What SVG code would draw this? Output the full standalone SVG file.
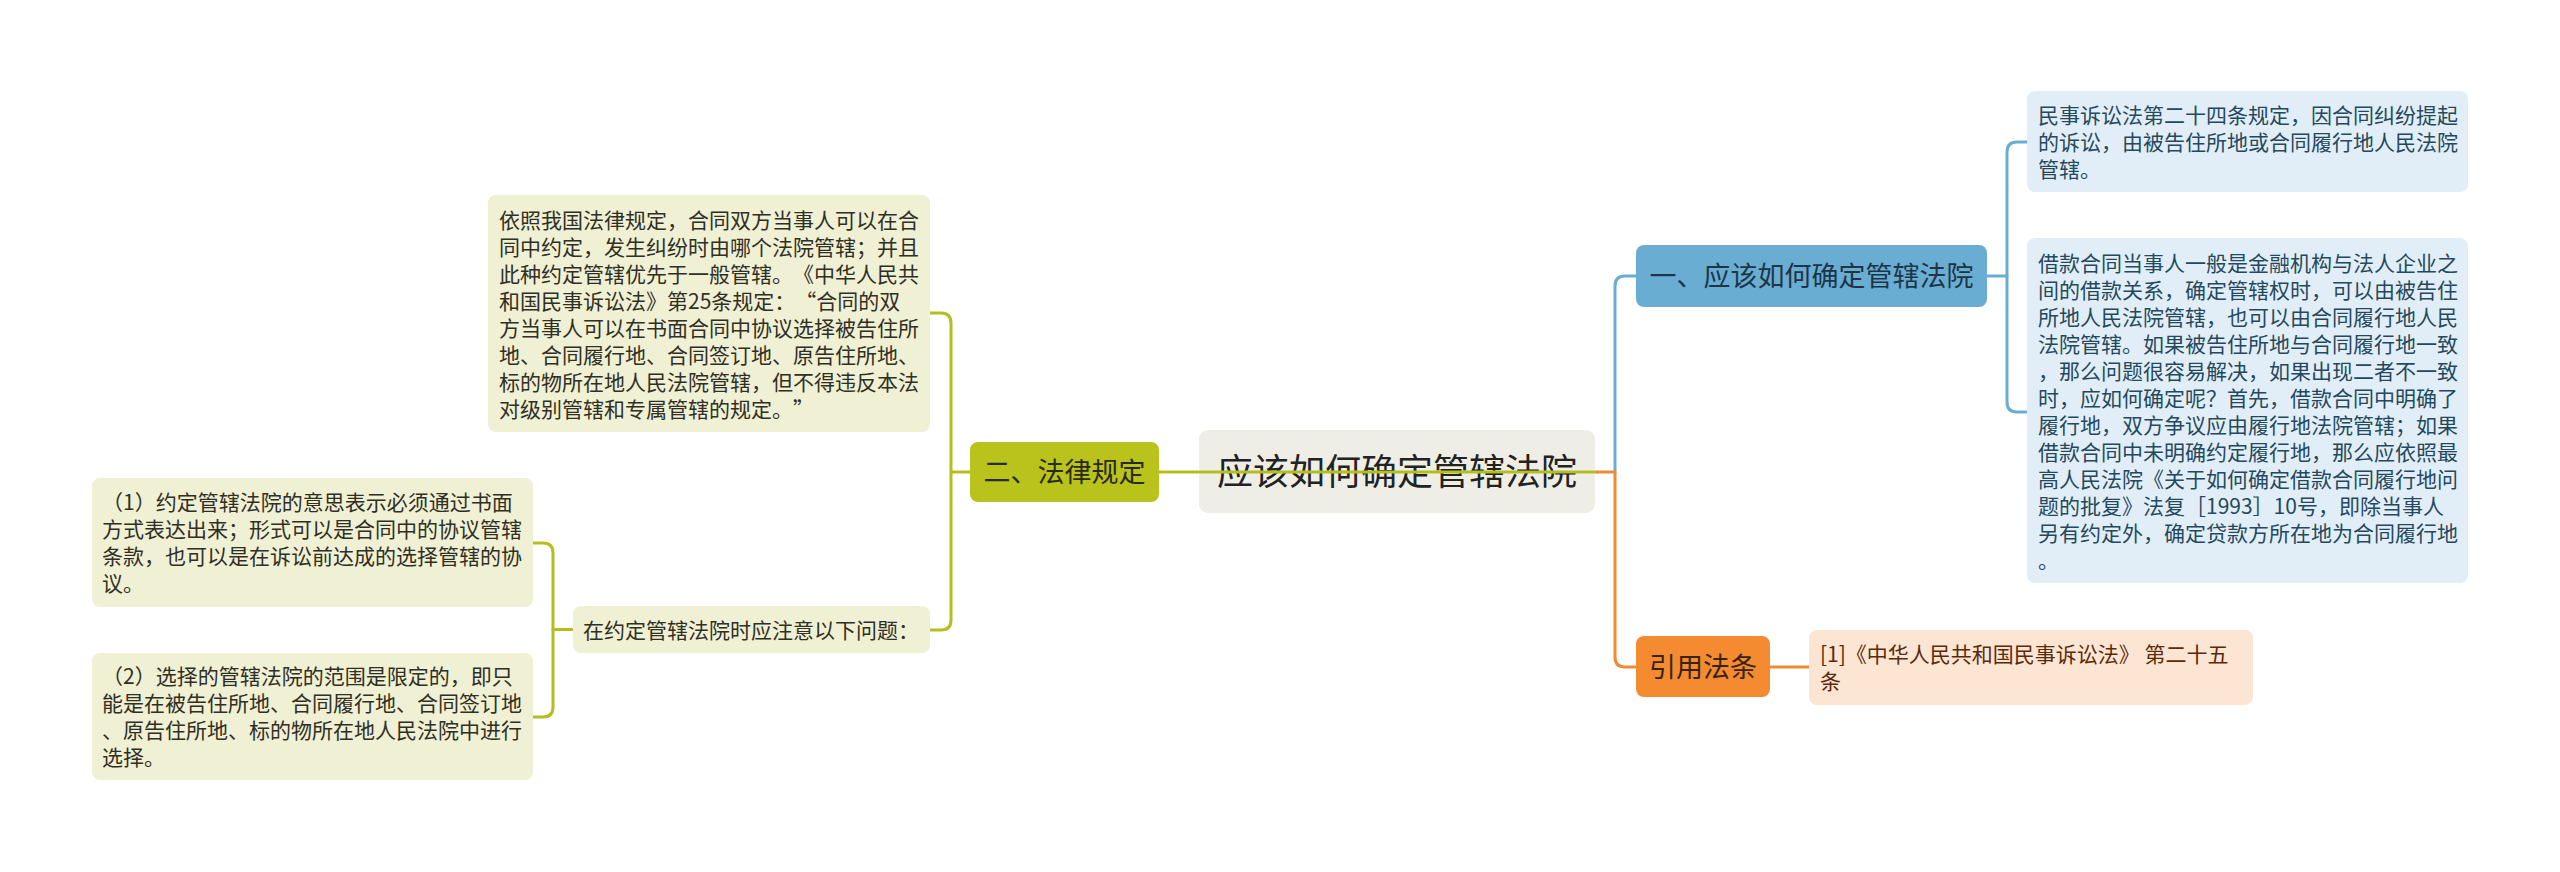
<svg xmlns="http://www.w3.org/2000/svg" width="2560" height="872" viewBox="0 0 2560 872">
<style>
text{font-family:"Noto Sans CJK SC","Noto Sans",sans-serif;text-spacing-trim:space-all;}
.t21{font-size:21px;}
.green{fill:#b9c31c;}
.gleaf{fill:#eff0d4;}
.gtxt{fill:#2f2f24;}
.bleaf{fill:#e2eef7;}
.btxt{fill:#24495e;}
.ln{fill:none;stroke-width:3;stroke-linecap:round;stroke-linejoin:round;}
.lg{stroke:#b3bf20;}
.lb{stroke:#6aadd2;}
.lo{stroke:#f08a33;}
</style>
<rect width="2560" height="872" fill="#ffffff"/>

<g id="central">
<rect x="1199" y="430" width="396" height="83" rx="9" fill="#eeeee7"/>
<text x="1397" y="485" font-size="36" text-anchor="middle" fill="#222222">应该如何确定管辖法院</text>
</g>

<g id="connectors">
<path class="ln lg" d="M1159,472 H1597"/>
<path class="ln lg" d="M970,472 H951"/>
<path class="ln lg" d="M930,313 H941 Q951,313 951,323 V620 Q951,630 941,630 H930"/>
<path class="ln lg" d="M573,629.5 H553"/>
<path class="ln lg" d="M533,543 H543 Q553,543 553,553 V707 Q553,717 543,717 H533"/>
<path class="ln lb" d="M1615,472 V286 Q1615,276 1625,276 H1636"/>
<path class="ln lo" d="M1597,472 H1615 V657 Q1615,667 1625,667 H1636"/>
<path class="ln lb" d="M1987,276 H2007"/>
<path class="ln lb" d="M2028,142 H2017 Q2007,142 2007,152 V402 Q2007,412 2017,412 H2028"/>
<path class="ln lo" d="M1770,667 H1809"/>
</g>

<g id="n-law">
<rect x="970" y="442" width="189" height="60" rx="8" class="green"/>
<text x="1064.5" y="482" font-size="27" text-anchor="middle" fill="#2a2a1a">二、法律规定</text>
</g>

<g id="n-law-leaf1">
<rect x="488" y="195" width="442" height="237" rx="8" class="gleaf"/>
<text class="t21 gtxt">
<tspan x="499" y="227.5">依照我国法律规定，合同双方当事人可以在合</tspan>
<tspan x="499" y="254.5">同中约定，发生纠纷时由哪个法院管辖；并且</tspan>
<tspan x="499" y="281.5">此种约定管辖优先于一般管辖。《中华人民共</tspan>
<tspan x="499" y="308.5">和国民事诉讼法》第25条规定：“合同的双</tspan>
<tspan x="499" y="335.5">方当事人可以在书面合同中协议选择被告住所</tspan>
<tspan x="499" y="362.5">地、合同履行地、合同签订地、原告住所地、</tspan>
<tspan x="499" y="389.5">标的物所在地人民法院管辖，但不得违反本法</tspan>
<tspan x="499" y="416.5">对级别管辖和专属管辖的规定。”</tspan>
</text>
</g>

<g id="n-law-leaf2">
<rect x="573" y="606" width="357" height="47" rx="8" class="gleaf"/>
<text x="583" y="637.5" class="t21 gtxt">在约定管辖法院时应注意以下问题：</text>
</g>

<g id="n-note1">
<rect x="92" y="478" width="441" height="129" rx="8" class="gleaf"/>
<text class="t21 gtxt">
<tspan x="102" y="510">（1）约定管辖法院的意思表示必须通过书面</tspan>
<tspan x="102" y="537">方式表达出来；形式可以是合同中的协议管辖</tspan>
<tspan x="102" y="564">条款，也可以是在诉讼前达成的选择管辖的协</tspan>
<tspan x="102" y="591">议。</tspan>
</text>
</g>

<g id="n-note2">
<rect x="92" y="653" width="441" height="127" rx="8" class="gleaf"/>
<text class="t21 gtxt">
<tspan x="102" y="684">（2）选择的管辖法院的范围是限定的，即只</tspan>
<tspan x="102" y="711">能是在被告住所地、合同履行地、合同签订地</tspan>
<tspan x="102" y="738">、原告住所地、标的物所在地人民法院中进行</tspan>
<tspan x="102" y="765">选择。</tspan>
</text>
</g>

<g id="n-how">
<rect x="1636" y="245" width="351" height="62" rx="8" fill="#69add3"/>
<text x="1811.5" y="286" font-size="27" text-anchor="middle" fill="#1d3546">一、应该如何确定管辖法院</text>
</g>

<g id="n-how-leaf1">
<rect x="2027" y="91" width="441" height="101" rx="8" class="bleaf"/>
<text class="t21 btxt">
<tspan x="2038" y="123">民事诉讼法第二十四条规定，因合同纠纷提起</tspan>
<tspan x="2038" y="150">的诉讼，由被告住所地或合同履行地人民法院</tspan>
<tspan x="2038" y="177">管辖。</tspan>
</text>
</g>

<g id="n-how-leaf2">
<rect x="2027" y="238" width="441" height="345" rx="8" class="bleaf"/>
<text class="t21 btxt">
<tspan x="2038" y="271">借款合同当事人一般是金融机构与法人企业之</tspan>
<tspan x="2038" y="298">间的借款关系，确定管辖权时，可以由被告住</tspan>
<tspan x="2038" y="325">所地人民法院管辖，也可以由合同履行地人民</tspan>
<tspan x="2038" y="352">法院管辖。如果被告住所地与合同履行地一致</tspan>
<tspan x="2038" y="379">，那么问题很容易解决，如果出现二者不一致</tspan>
<tspan x="2038" y="406">时，应如何确定呢？首先，借款合同中明确了</tspan>
<tspan x="2038" y="433">履行地，双方争议应由履行地法院管辖；如果</tspan>
<tspan x="2038" y="460">借款合同中未明确约定履行地，那么应依照最</tspan>
<tspan x="2038" y="487">高人民法院《关于如何确定借款合同履行地问</tspan>
<tspan x="2038" y="514">题的批复》法复［1993］10号，即除当事人</tspan>
<tspan x="2038" y="541">另有约定外，确定贷款方所在地为合同履行地</tspan>
<tspan x="2038" y="568">。</tspan>
</text>
</g>

<g id="n-cite">
<rect x="1636" y="636" width="134" height="61" rx="8" fill="#f48b30"/>
<text x="1703" y="677" font-size="27" text-anchor="middle" fill="#3a2210">引用法条</text>
</g>

<g id="n-cite-leaf">
<rect x="1809" y="630" width="444" height="75" rx="8" fill="#fde5d3"/>
<text class="t21" fill="#5a2a0a">
<tspan x="1820" y="662">[1]《中华人民共和国民事诉讼法》 第二十五</tspan>
<tspan x="1820" y="689">条</tspan>
</text>
</g>
</svg>
